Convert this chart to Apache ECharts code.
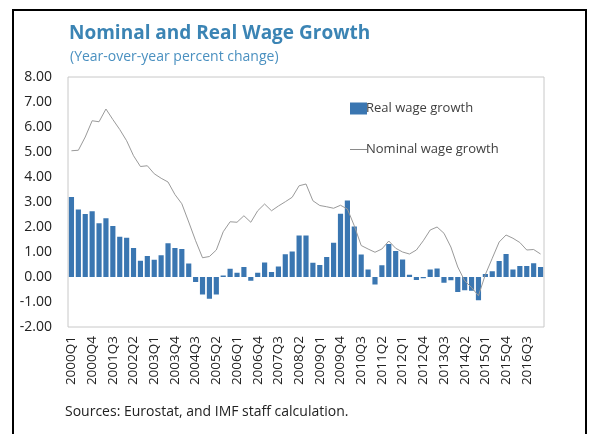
<!DOCTYPE html>
<html><head><meta charset="utf-8">
<script src="https://cdn.jsdelivr.net/npm/echarts@6/dist/echarts.min.js"></script>
<style>html,body{margin:0;padding:0;background:#fff}#c{width:591px;height:434px}</style>
</head><body><div id="c"></div>
<script>
var years = [];
for (var y = 2000; y <= 2016; y++) years.push(y);
var categories = [];
years.forEach(function(y){ for (var q=1;q<=4;q++) categories.push(y+'Q'+q); });
categories.push('2017Q1');

var realWage = [3.2,2.7,2.52,2.63,2.15,2.35,2.04,1.61,1.57,1.16,0.65,0.84,0.69,0.87,1.35,1.16,1.12,0.54,-0.2,-0.7,-0.87,-0.7,0.06,0.33,0.17,0.4,-0.15,0.17,0.58,0.2,0.42,0.91,1.02,1.66,1.66,0.57,0.48,0.8,1.37,2.53,3.06,2.02,0.9,0.3,-0.3,0.47,1.32,1.04,0.7,0.09,-0.12,-0.05,0.3,0.34,-0.23,-0.13,-0.6,-0.53,-0.55,-0.93,0.12,0.23,0.64,0.92,0.3,0.44,0.44,0.55,0.4];
var nominalWage = [5.05,5.07,5.6,6.25,6.21,6.72,6.3,5.9,5.45,4.85,4.42,4.45,4.13,3.95,3.8,3.3,2.93,2.2,1.45,0.77,0.82,1.08,1.81,2.21,2.19,2.45,2.19,2.65,2.92,2.65,2.84,3.01,3.19,3.65,3.72,3.05,2.86,2.81,2.75,2.87,2.72,2.05,1.26,1.12,0.99,1.12,1.44,1.15,1.0,0.92,1.08,1.45,1.88,2.0,1.75,1.2,0.4,-0.15,-0.42,-0.75,0.1,0.75,1.4,1.68,1.55,1.38,1.08,1.1,0.92];
var yTicks = {min:-2, max:8, interval:1};

var chart = echarts.init(document.getElementById('c'), null, {renderer:'canvas'});
var font = '"Open Sans", sans-serif';
chart.setOption({
  animation:false,
  backgroundColor:'#fff',
  textStyle:{fontFamily:font},
  title:[
    {text:'Nominal and Real Wage Growth', left:69, top:24, padding:0, textStyle:{fontFamily:font, fontSize:19, fontWeight:'bold', color:'#3b84b4'}},
    {text:'(Year-over-year percent change)', left:70, top:50, padding:0, textStyle:{fontFamily:font, fontSize:14, fontWeight:'normal', color:'#4a90c0'}},
    {text:'Sources: Eurostat, and IMF staff calculation.', left:65, top:405, padding:0, textStyle:{fontFamily:font, fontSize:14, fontWeight:'normal', color:'#222'}}
  ],
  legend:{
    orient:'vertical', left:345, top:97, itemWidth:17, itemHeight:12, itemGap:28, symbolKeepAspect:true,
    textStyle:{fontFamily:font, fontSize:13, color:'#404040', padding:[0,0,0,-6]},
    data:[{name:'Real wage growth', icon:'rect'}, {name:'Nominal wage growth', icon:'path://M0,0H17V1H0Z', itemStyle:{color:'#8a8a8a'}}]
  },
  grid:{left:68, top:77, width:476, height:250, show:true, borderColor:'#c8c8c8', borderWidth:1, containLabel:false},
  xAxis:{
    type:'category', data:categories, boundaryGap:true,
    axisLine:{show:false, onZero:false}, axisTick:{show:false},
    axisLabel:{interval:2, rotate:90, fontSize:13.5, color:'#222', margin:9, fontFamily:font},
    splitLine:{show:false}
  },
  yAxis:{
    type:'value', min:yTicks.min, max:yTicks.max, interval:yTicks.interval,
    axisLine:{show:false}, axisTick:{show:false}, splitLine:{show:false},
    axisLabel:{fontSize:14, color:'#222', margin:16, fontFamily:font, formatter:function(v){return v.toFixed(2);}}
  },
  series:[
    {name:'Real wage growth', type:'bar', data:realWage, barCategoryGap:'25%', itemStyle:{color:'#3a76b1'}},
    {name:'Nominal wage growth', type:'line', data:nominalWage, symbol:'none', lineStyle:{color:'#9a9a9a', width:1}, itemStyle:{color:'#9a9a9a'}}
  ],
  graphic:[{type:'rect', shape:{x:13, y:10, width:573, height:440}, style:{fill:'none', stroke:'#000', lineWidth:2}, silent:true}]
});
</script></body></html>
